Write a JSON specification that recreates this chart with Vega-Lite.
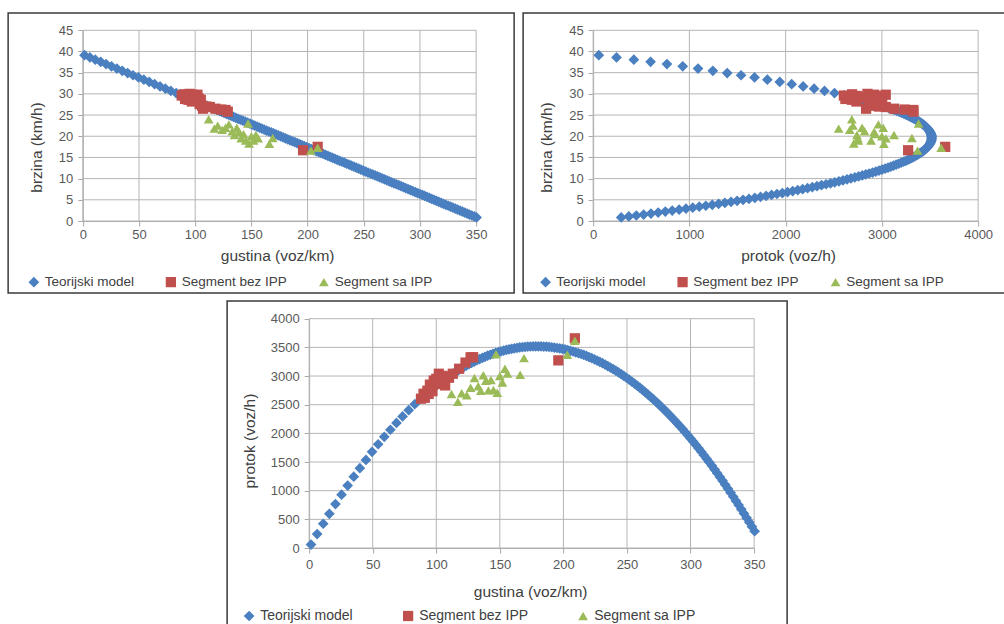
{
"$schema": "https://vega.github.io/schema/vega-lite/v6.json",
"padding": {"left": 7, "top": 12, "right": 0, "bottom": 0},
"config": {
  "font": "Liberation Sans",
  "view": {"stroke": "#3a3a3a", "strokeWidth": 1.5},
  "axis": {"grid": false, "format": "d", "domainColor": "#a8a8a8", "tickColor": "#a8a8a8", "tickSize": 5, "labelColor": "#595959", "labelFontSize": 13, "labelPadding": 5, "titleColor": "#404040", "titleFontSize": 15.5, "titleFontWeight": "normal", "titleBaseline": "middle", "titleAlign": "center", "labelFlush": false, "labelOverlap": false},
  "legend": {"orient": "none", "direction": "horizontal", "columns": 3, "title": null, "padding": 0, "labelOffset": 4, "labelColor": "#404040", "labelFontSize": 13.5, "symbolSize": 110, "symbolStrokeWidth": 0}
},
"datasets": {
  "gk": [{"g":0},{"g":50},{"g":100},{"g":150},{"g":200},{"g":250},{"g":300},{"g":350}],
  "gv": [{"g":0},{"g":5},{"g":10},{"g":15},{"g":20},{"g":25},{"g":30},{"g":35},{"g":40},{"g":45}],
  "gq": [{"g":0},{"g":1000},{"g":2000},{"g":3000},{"g":4000}],
  "gq5": [{"g":0},{"g":500},{"g":1000},{"g":1500},{"g":2000},{"g":2500},{"g":3000},{"g":3500},{"g":4000}],
  "pts": [
{"k":1.5,"v":39.14,"q":59,"s":"Teorijski model"},
{"k":6.3,"v":38.61,"q":243,"s":"Teorijski model"},
{"k":11.1,"v":38.08,"q":423,"s":"Teorijski model"},
{"k":15.9,"v":37.55,"q":597,"s":"Teorijski model"},
{"k":20.7,"v":37.03,"q":767,"s":"Teorijski model"},
{"k":25.5,"v":36.5,"q":931,"s":"Teorijski model"},
{"k":30.3,"v":35.97,"q":1090,"s":"Teorijski model"},
{"k":35.1,"v":35.45,"q":1244,"s":"Teorijski model"},
{"k":39.9,"v":34.92,"q":1393,"s":"Teorijski model"},
{"k":44.7,"v":34.39,"q":1537,"s":"Teorijski model"},
{"k":49.5,"v":33.87,"q":1677,"s":"Teorijski model"},
{"k":54.3,"v":33.34,"q":1810,"s":"Teorijski model"},
{"k":59.1,"v":32.81,"q":1939,"s":"Teorijski model"},
{"k":63.9,"v":32.29,"q":2063,"s":"Teorijski model"},
{"k":68.7,"v":31.76,"q":2182,"s":"Teorijski model"},
{"k":73.5,"v":31.23,"q":2296,"s":"Teorijski model"},
{"k":78.3,"v":30.7,"q":2404,"s":"Teorijski model"},
{"k":83.1,"v":30.18,"q":2508,"s":"Teorijski model"},
{"k":87.9,"v":29.65,"q":2606,"s":"Teorijski model"},
{"k":90.0,"v":29.42,"q":2648,"s":"Teorijski model"},
{"k":92.1,"v":29.19,"q":2688,"s":"Teorijski model"},
{"k":94.2,"v":28.96,"q":2728,"s":"Teorijski model"},
{"k":96.3,"v":28.73,"q":2767,"s":"Teorijski model"},
{"k":98.4,"v":28.5,"q":2804,"s":"Teorijski model"},
{"k":100.5,"v":28.27,"q":2841,"s":"Teorijski model"},
{"k":102.6,"v":28.04,"q":2877,"s":"Teorijski model"},
{"k":104.7,"v":27.81,"q":2911,"s":"Teorijski model"},
{"k":106.8,"v":27.58,"q":2945,"s":"Teorijski model"},
{"k":108.9,"v":27.35,"q":2978,"s":"Teorijski model"},
{"k":111.0,"v":27.12,"q":3010,"s":"Teorijski model"},
{"k":113.1,"v":26.88,"q":3041,"s":"Teorijski model"},
{"k":115.2,"v":26.65,"q":3071,"s":"Teorijski model"},
{"k":117.3,"v":26.42,"q":3099,"s":"Teorijski model"},
{"k":119.4,"v":26.19,"q":3127,"s":"Teorijski model"},
{"k":121.5,"v":25.96,"q":3154,"s":"Teorijski model"},
{"k":123.6,"v":25.73,"q":3180,"s":"Teorijski model"},
{"k":125.7,"v":25.5,"q":3206,"s":"Teorijski model"},
{"k":127.8,"v":25.27,"q":3230,"s":"Teorijski model"},
{"k":129.9,"v":25.04,"q":3253,"s":"Teorijski model"},
{"k":132.0,"v":24.81,"q":3275,"s":"Teorijski model"},
{"k":134.1,"v":24.58,"q":3296,"s":"Teorijski model"},
{"k":136.2,"v":24.35,"q":3316,"s":"Teorijski model"},
{"k":138.3,"v":24.12,"q":3336,"s":"Teorijski model"},
{"k":140.4,"v":23.89,"q":3354,"s":"Teorijski model"},
{"k":142.5,"v":23.66,"q":3371,"s":"Teorijski model"},
{"k":144.6,"v":23.43,"q":3387,"s":"Teorijski model"},
{"k":146.7,"v":23.2,"q":3403,"s":"Teorijski model"},
{"k":148.8,"v":22.97,"q":3417,"s":"Teorijski model"},
{"k":150.9,"v":22.74,"q":3431,"s":"Teorijski model"},
{"k":153.0,"v":22.5,"q":3443,"s":"Teorijski model"},
{"k":155.1,"v":22.27,"q":3455,"s":"Teorijski model"},
{"k":157.2,"v":22.04,"q":3465,"s":"Teorijski model"},
{"k":159.3,"v":21.81,"q":3475,"s":"Teorijski model"},
{"k":161.4,"v":21.58,"q":3483,"s":"Teorijski model"},
{"k":163.5,"v":21.35,"q":3491,"s":"Teorijski model"},
{"k":165.6,"v":21.12,"q":3498,"s":"Teorijski model"},
{"k":167.7,"v":20.89,"q":3503,"s":"Teorijski model"},
{"k":169.8,"v":20.66,"q":3508,"s":"Teorijski model"},
{"k":171.9,"v":20.43,"q":3512,"s":"Teorijski model"},
{"k":174.0,"v":20.2,"q":3515,"s":"Teorijski model"},
{"k":176.1,"v":19.97,"q":3517,"s":"Teorijski model"},
{"k":178.2,"v":19.74,"q":3517,"s":"Teorijski model"},
{"k":180.3,"v":19.51,"q":3517,"s":"Teorijski model"},
{"k":182.4,"v":19.28,"q":3516,"s":"Teorijski model"},
{"k":184.5,"v":19.05,"q":3514,"s":"Teorijski model"},
{"k":186.6,"v":18.82,"q":3511,"s":"Teorijski model"},
{"k":188.7,"v":18.59,"q":3507,"s":"Teorijski model"},
{"k":190.8,"v":18.36,"q":3502,"s":"Teorijski model"},
{"k":192.9,"v":18.13,"q":3496,"s":"Teorijski model"},
{"k":195.0,"v":17.89,"q":3489,"s":"Teorijski model"},
{"k":197.1,"v":17.66,"q":3482,"s":"Teorijski model"},
{"k":199.2,"v":17.43,"q":3473,"s":"Teorijski model"},
{"k":201.3,"v":17.2,"q":3463,"s":"Teorijski model"},
{"k":203.4,"v":16.97,"q":3452,"s":"Teorijski model"},
{"k":205.5,"v":16.74,"q":3440,"s":"Teorijski model"},
{"k":207.6,"v":16.51,"q":3428,"s":"Teorijski model"},
{"k":209.7,"v":16.28,"q":3414,"s":"Teorijski model"},
{"k":211.8,"v":16.05,"q":3399,"s":"Teorijski model"},
{"k":213.9,"v":15.82,"q":3384,"s":"Teorijski model"},
{"k":216.0,"v":15.59,"q":3367,"s":"Teorijski model"},
{"k":218.1,"v":15.36,"q":3350,"s":"Teorijski model"},
{"k":220.2,"v":15.13,"q":3331,"s":"Teorijski model"},
{"k":222.3,"v":14.9,"q":3312,"s":"Teorijski model"},
{"k":224.4,"v":14.67,"q":3291,"s":"Teorijski model"},
{"k":226.5,"v":14.44,"q":3270,"s":"Teorijski model"},
{"k":228.6,"v":14.21,"q":3247,"s":"Teorijski model"},
{"k":230.7,"v":13.98,"q":3224,"s":"Teorijski model"},
{"k":232.8,"v":13.75,"q":3200,"s":"Teorijski model"},
{"k":234.9,"v":13.51,"q":3174,"s":"Teorijski model"},
{"k":237.0,"v":13.28,"q":3148,"s":"Teorijski model"},
{"k":239.1,"v":13.05,"q":3121,"s":"Teorijski model"},
{"k":241.2,"v":12.82,"q":3093,"s":"Teorijski model"},
{"k":243.3,"v":12.59,"q":3064,"s":"Teorijski model"},
{"k":245.4,"v":12.36,"q":3034,"s":"Teorijski model"},
{"k":247.5,"v":12.13,"q":3002,"s":"Teorijski model"},
{"k":249.6,"v":11.9,"q":2970,"s":"Teorijski model"},
{"k":251.7,"v":11.67,"q":2937,"s":"Teorijski model"},
{"k":253.8,"v":11.44,"q":2903,"s":"Teorijski model"},
{"k":255.9,"v":11.21,"q":2868,"s":"Teorijski model"},
{"k":258.0,"v":10.98,"q":2832,"s":"Teorijski model"},
{"k":260.1,"v":10.75,"q":2796,"s":"Teorijski model"},
{"k":262.2,"v":10.52,"q":2758,"s":"Teorijski model"},
{"k":264.3,"v":10.29,"q":2719,"s":"Teorijski model"},
{"k":266.4,"v":10.06,"q":2679,"s":"Teorijski model"},
{"k":268.5,"v":9.83,"q":2638,"s":"Teorijski model"},
{"k":270.6,"v":9.6,"q":2596,"s":"Teorijski model"},
{"k":272.7,"v":9.37,"q":2554,"s":"Teorijski model"},
{"k":274.8,"v":9.13,"q":2510,"s":"Teorijski model"},
{"k":276.9,"v":8.9,"q":2466,"s":"Teorijski model"},
{"k":279.0,"v":8.67,"q":2420,"s":"Teorijski model"},
{"k":281.1,"v":8.44,"q":2373,"s":"Teorijski model"},
{"k":283.2,"v":8.21,"q":2326,"s":"Teorijski model"},
{"k":285.3,"v":7.98,"q":2277,"s":"Teorijski model"},
{"k":287.4,"v":7.75,"q":2228,"s":"Teorijski model"},
{"k":289.5,"v":7.52,"q":2177,"s":"Teorijski model"},
{"k":291.6,"v":7.29,"q":2126,"s":"Teorijski model"},
{"k":293.7,"v":7.06,"q":2074,"s":"Teorijski model"},
{"k":295.8,"v":6.83,"q":2020,"s":"Teorijski model"},
{"k":297.9,"v":6.6,"q":1966,"s":"Teorijski model"},
{"k":300.0,"v":6.37,"q":1910,"s":"Teorijski model"},
{"k":302.1,"v":6.14,"q":1854,"s":"Teorijski model"},
{"k":304.2,"v":5.91,"q":1797,"s":"Teorijski model"},
{"k":306.3,"v":5.68,"q":1739,"s":"Teorijski model"},
{"k":308.4,"v":5.45,"q":1680,"s":"Teorijski model"},
{"k":310.5,"v":5.22,"q":1619,"s":"Teorijski model"},
{"k":312.6,"v":4.99,"q":1558,"s":"Teorijski model"},
{"k":314.7,"v":4.75,"q":1496,"s":"Teorijski model"},
{"k":316.8,"v":4.52,"q":1433,"s":"Teorijski model"},
{"k":318.9,"v":4.29,"q":1369,"s":"Teorijski model"},
{"k":321.0,"v":4.06,"q":1304,"s":"Teorijski model"},
{"k":323.1,"v":3.83,"q":1238,"s":"Teorijski model"},
{"k":325.2,"v":3.6,"q":1171,"s":"Teorijski model"},
{"k":327.3,"v":3.37,"q":1103,"s":"Teorijski model"},
{"k":329.4,"v":3.14,"q":1035,"s":"Teorijski model"},
{"k":331.5,"v":2.91,"q":965,"s":"Teorijski model"},
{"k":333.6,"v":2.68,"q":894,"s":"Teorijski model"},
{"k":335.7,"v":2.45,"q":822,"s":"Teorijski model"},
{"k":337.8,"v":2.22,"q":750,"s":"Teorijski model"},
{"k":339.9,"v":1.99,"q":676,"s":"Teorijski model"},
{"k":342.0,"v":1.76,"q":601,"s":"Teorijski model"},
{"k":344.1,"v":1.53,"q":525,"s":"Teorijski model"},
{"k":346.2,"v":1.3,"q":449,"s":"Teorijski model"},
{"k":348.3,"v":1.07,"q":371,"s":"Teorijski model"},
{"k":350.4,"v":0.83,"q":292,"s":"Teorijski model"},
{"k":88,"v":29.6,"q":2605,"s":"Segment bez IPP"},
{"k":90,"v":29.9,"q":2691,"s":"Segment bez IPP"},
{"k":91,"v":28.8,"q":2621,"s":"Segment bez IPP"},
{"k":93,"v":29.5,"q":2744,"s":"Segment bez IPP"},
{"k":94,"v":28.6,"q":2688,"s":"Segment bez IPP"},
{"k":95,"v":30.0,"q":2850,"s":"Segment bez IPP"},
{"k":96,"v":29.1,"q":2794,"s":"Segment bez IPP"},
{"k":97,"v":28.2,"q":2735,"s":"Segment bez IPP"},
{"k":98,"v":29.8,"q":2920,"s":"Segment bez IPP"},
{"k":99,"v":28.9,"q":2861,"s":"Segment bez IPP"},
{"k":100,"v":29.5,"q":2950,"s":"Segment bez IPP"},
{"k":101,"v":28.4,"q":2868,"s":"Segment bez IPP"},
{"k":102,"v":29.8,"q":3040,"s":"Segment bez IPP"},
{"k":103,"v":28.9,"q":2977,"s":"Segment bez IPP"},
{"k":104,"v":27.6,"q":2870,"s":"Segment bez IPP"},
{"k":105,"v":28.6,"q":3003,"s":"Segment bez IPP"},
{"k":106,"v":27.2,"q":2883,"s":"Segment bez IPP"},
{"k":107,"v":26.5,"q":2836,"s":"Segment bez IPP"},
{"k":110,"v":27.0,"q":2970,"s":"Segment bez IPP"},
{"k":113,"v":26.9,"q":3040,"s":"Segment bez IPP"},
{"k":118,"v":26.5,"q":3127,"s":"Segment bez IPP"},
{"k":123,"v":26.3,"q":3235,"s":"Segment bez IPP"},
{"k":127,"v":26.2,"q":3327,"s":"Segment bez IPP"},
{"k":129,"v":25.8,"q":3328,"s":"Segment bez IPP"},
{"k":196,"v":16.7,"q":3273,"s":"Segment bez IPP"},
{"k":209,"v":17.5,"q":3658,"s":"Segment bez IPP"},
{"k":112,"v":24.0,"q":2688,"s":"Segment sa IPP"},
{"k":117,"v":21.8,"q":2551,"s":"Segment sa IPP"},
{"k":120,"v":22.5,"q":2700,"s":"Segment sa IPP"},
{"k":124,"v":21.5,"q":2666,"s":"Segment sa IPP"},
{"k":127,"v":22.0,"q":2794,"s":"Segment sa IPP"},
{"k":130,"v":22.8,"q":2964,"s":"Segment sa IPP"},
{"k":133,"v":21.2,"q":2820,"s":"Segment sa IPP"},
{"k":135,"v":20.3,"q":2741,"s":"Segment sa IPP"},
{"k":137,"v":22.0,"q":3014,"s":"Segment sa IPP"},
{"k":139,"v":21.0,"q":2919,"s":"Segment sa IPP"},
{"k":141,"v":19.5,"q":2750,"s":"Segment sa IPP"},
{"k":143,"v":20.5,"q":2932,"s":"Segment sa IPP"},
{"k":145,"v":19.0,"q":2755,"s":"Segment sa IPP"},
{"k":147,"v":23.0,"q":3381,"s":"Segment sa IPP"},
{"k":148,"v":18.3,"q":2708,"s":"Segment sa IPP"},
{"k":150,"v":20.0,"q":3000,"s":"Segment sa IPP"},
{"k":152,"v":19.0,"q":2888,"s":"Segment sa IPP"},
{"k":154,"v":20.3,"q":3126,"s":"Segment sa IPP"},
{"k":156,"v":19.5,"q":3042,"s":"Segment sa IPP"},
{"k":166,"v":18.2,"q":3021,"s":"Segment sa IPP"},
{"k":169,"v":19.6,"q":3312,"s":"Segment sa IPP"},
{"k":203,"v":16.6,"q":3370,"s":"Segment sa IPP"},
{"k":209,"v":17.3,"q":3616,"s":"Segment sa IPP"}
  ]
},
"spacing": 6,
"center": true,
"resolve": {"scale": {"color": "independent", "shape": "independent", "size": "independent"}, "legend": {"color": "independent", "shape": "independent", "size": "independent"}},
"vconcat": [
 {
  "spacing": 7,
  "resolve": {"scale": {"color": "independent", "shape": "independent", "size": "independent"}, "legend": {"color": "independent", "shape": "independent", "size": "independent"}},
  "hconcat": [
   {
    "width": 506, "height": 280,
    "layer": [
     {"data": {"name": "gk"}, "mark": {"type": "rule", "color": "#b4b4b4", "strokeWidth": 1},
      "encoding": {
        "x": {"field": "g", "type": "quantitative", "title": "gustina (voz/km)", "scale": {"domain": [0, 350], "range": [74.7, 468], "nice": false, "zero": false},
              "axis": {"values": [0, 50, 100, 150, 200, 250, 300, 350], "offset": -72, "labelPadding": 2, "title": "gustina (voz/km)", "titleX": 269, "titleY": 34}},
        "y": {"datum": 0, "type": "quantitative", "title": "brzina (km/h)", "scale": {"domain": [0, 45], "range": [208, 17.3], "nice": false, "zero": false},
              "axis": {"values": [0, 5, 10, 15, 20, 25, 30, 35, 40, 45], "offset": -74.7, "title": "brzina (km/h)", "titleX": -46.7, "titleY": 134}},
        "y2": {"datum": 45}}},
     {"data": {"name": "gv"}, "mark": {"type": "rule", "color": "#b4b4b4", "strokeWidth": 1},
      "encoding": {
        "y": {"field": "g", "type": "quantitative", "title": "brzina (km/h)", "scale": {"domain": [0, 45], "range": [208, 17.3], "nice": false, "zero": false},
              "axis": {"values": [0, 5, 10, 15, 20, 25, 30, 35, 40, 45], "offset": -74.7, "title": "brzina (km/h)", "titleX": -46.7, "titleY": 134}},
        "x": {"datum": 0, "type": "quantitative", "title": "gustina (voz/km)", "scale": {"domain": [0, 350], "range": [74.7, 468], "nice": false, "zero": false},
              "axis": {"values": [0, 50, 100, 150, 200, 250, 300, 350], "offset": -72, "labelPadding": 2, "title": "gustina (voz/km)", "titleX": 269, "titleY": 34}},
        "x2": {"datum": 350}}},
     {"data": {"name": "pts"}, "mark": {"type": "point", "filled": true, "opacity": 1, "strokeWidth": 0},
      "encoding": {
        "x": {"field": "k", "type": "quantitative", "title": "gustina (voz/km)", "scale": {"domain": [0, 350], "range": [74.7, 468], "nice": false, "zero": false},
              "axis": {"values": [0, 50, 100, 150, 200, 250, 300, 350], "offset": -72, "labelPadding": 2, "title": "gustina (voz/km)", "titleX": 269, "titleY": 34}},
        "y": {"field": "v", "type": "quantitative", "title": "brzina (km/h)", "scale": {"domain": [0, 45], "range": [208, 17.3], "nice": false, "zero": false},
              "axis": {"values": [0, 5, 10, 15, 20, 25, 30, 35, 40, 45], "offset": -74.7, "title": "brzina (km/h)", "titleX": -46.7, "titleY": 134}},
        "color": {"field": "s", "type": "nominal", "scale": {"domain": ["Teorijski model", "Segment bez IPP", "Segment sa IPP"], "range": ["#4a7fc0", "#c0504d", "#9bbb59"]},
                  "legend": {"legendX": 19, "legendY": 262, "columnPadding": 30}},
        "shape": {"field": "s", "type": "nominal", "scale": {"domain": ["Teorijski model", "Segment bez IPP", "Segment sa IPP"], "range": ["diamond", "square", "triangle-up"]},
                  "legend": {"legendX": 19, "legendY": 262, "columnPadding": 30}},
        "size": {"field": "s", "type": "nominal", "scale": {"domain": ["Teorijski model", "Segment bez IPP", "Segment sa IPP"], "range": [115, 95, 130]}, "legend": null}
      }}
    ]
   },
   {
    "width": 483, "height": 280,
    "layer": [
     {"data": {"name": "gq"}, "mark": {"type": "rule", "color": "#b4b4b4", "strokeWidth": 1},
      "encoding": {
        "x": {"field": "g", "type": "quantitative", "title": "protok (voz/h)", "scale": {"domain": [0, 4000], "range": [70, 455], "nice": false, "zero": false},
              "axis": {"values": [0, 1000, 2000, 3000, 4000], "offset": -72, "labelPadding": 2, "title": "protok (voz/h)", "titleX": 265, "titleY": 34}},
        "y": {"datum": 0, "type": "quantitative", "title": "brzina (km/h)", "scale": {"domain": [0, 45], "range": [208, 17.3], "nice": false, "zero": false},
              "axis": {"values": [0, 5, 10, 15, 20, 25, 30, 35, 40, 45], "offset": -70, "title": "brzina (km/h)", "titleX": -46.7, "titleY": 134}},
        "y2": {"datum": 45}}},
     {"data": {"name": "gv"}, "mark": {"type": "rule", "color": "#b4b4b4", "strokeWidth": 1},
      "encoding": {
        "y": {"field": "g", "type": "quantitative", "title": "brzina (km/h)", "scale": {"domain": [0, 45], "range": [208, 17.3], "nice": false, "zero": false},
              "axis": {"values": [0, 5, 10, 15, 20, 25, 30, 35, 40, 45], "offset": -70, "title": "brzina (km/h)", "titleX": -46.7, "titleY": 134}},
        "x": {"datum": 0, "type": "quantitative", "title": "protok (voz/h)", "scale": {"domain": [0, 4000], "range": [70, 455], "nice": false, "zero": false},
              "axis": {"values": [0, 1000, 2000, 3000, 4000], "offset": -72, "labelPadding": 2, "title": "protok (voz/h)", "titleX": 265, "titleY": 34}},
        "x2": {"datum": 4000}}},
     {"data": {"name": "pts"}, "mark": {"type": "point", "filled": true, "opacity": 1, "strokeWidth": 0},
      "encoding": {
        "x": {"field": "q", "type": "quantitative", "title": "protok (voz/h)", "scale": {"domain": [0, 4000], "range": [70, 455], "nice": false, "zero": false},
              "axis": {"values": [0, 1000, 2000, 3000, 4000], "offset": -72, "labelPadding": 2, "title": "protok (voz/h)", "titleX": 265, "titleY": 34}},
        "y": {"field": "v", "type": "quantitative", "title": "brzina (km/h)", "scale": {"domain": [0, 45], "range": [208, 17.3], "nice": false, "zero": false},
              "axis": {"values": [0, 5, 10, 15, 20, 25, 30, 35, 40, 45], "offset": -70, "title": "brzina (km/h)", "titleX": -46.7, "titleY": 134}},
        "color": {"field": "s", "type": "nominal", "scale": {"domain": ["Teorijski model", "Segment bez IPP", "Segment sa IPP"], "range": ["#4a7fc0", "#c0504d", "#9bbb59"]},
                  "legend": {"legendX": 15.7, "legendY": 262, "columnPadding": 30}},
        "shape": {"field": "s", "type": "nominal", "scale": {"domain": ["Teorijski model", "Segment bez IPP", "Segment sa IPP"], "range": ["diamond", "square", "triangle-up"]},
                  "legend": {"legendX": 15.7, "legendY": 262, "columnPadding": 30}},
        "size": {"field": "s", "type": "nominal", "scale": {"domain": ["Teorijski model", "Segment bez IPP", "Segment sa IPP"], "range": [115, 95, 130]}, "legend": null}
      }}
    ]
   }
  ]
 },
 {
  "width": 560, "height": 330,
  "layer": [
   {"data": {"name": "gk"}, "mark": {"type": "rule", "color": "#b4b4b4", "strokeWidth": 1},
    "encoding": {
      "x": {"field": "g", "type": "quantitative", "title": "gustina (voz/km)", "scale": {"domain": [0, 350], "range": [82, 527], "nice": false, "zero": false},
            "axis": {"values": [0, 50, 100, 150, 200, 250, 300, 350], "offset": -83, "title": "gustina (voz/km)", "titleX": 303, "titleY": 43}},
      "y": {"datum": 0, "type": "quantitative", "title": "protok (voz/h)", "scale": {"domain": [0, 4000], "range": [247, 17.7], "nice": false, "zero": false},
            "axis": {"values": [0, 500, 1000, 1500, 2000, 2500, 3000, 3500, 4000], "offset": -82, "title": "protok (voz/h)", "titleX": -60, "titleY": 139.5}},
      "y2": {"datum": 4000}}},
   {"data": {"name": "gq5"}, "mark": {"type": "rule", "color": "#b4b4b4", "strokeWidth": 1},
    "encoding": {
      "y": {"field": "g", "type": "quantitative", "title": "protok (voz/h)", "scale": {"domain": [0, 4000], "range": [247, 17.7], "nice": false, "zero": false},
            "axis": {"values": [0, 500, 1000, 1500, 2000, 2500, 3000, 3500, 4000], "offset": -82, "title": "protok (voz/h)", "titleX": -60, "titleY": 139.5}},
      "x": {"datum": 0, "type": "quantitative", "title": "gustina (voz/km)", "scale": {"domain": [0, 350], "range": [82, 527], "nice": false, "zero": false},
            "axis": {"values": [0, 50, 100, 150, 200, 250, 300, 350], "offset": -83, "title": "gustina (voz/km)", "titleX": 303, "titleY": 43}},
      "x2": {"datum": 350}}},
   {"data": {"name": "pts"}, "mark": {"type": "point", "filled": true, "opacity": 1, "strokeWidth": 0},
    "encoding": {
      "x": {"field": "k", "type": "quantitative", "title": "gustina (voz/km)", "scale": {"domain": [0, 350], "range": [82, 527], "nice": false, "zero": false},
            "axis": {"values": [0, 50, 100, 150, 200, 250, 300, 350], "offset": -83, "title": "gustina (voz/km)", "titleX": 303, "titleY": 43}},
      "y": {"field": "q", "type": "quantitative", "title": "protok (voz/h)", "scale": {"domain": [0, 4000], "range": [247, 17.7], "nice": false, "zero": false},
            "axis": {"values": [0, 500, 1000, 1500, 2000, 2500, 3000, 3500, 4000], "offset": -82, "title": "protok (voz/h)", "titleX": -60, "titleY": 139.5}},
      "color": {"field": "s", "type": "nominal", "scale": {"domain": ["Teorijski model", "Segment bez IPP", "Segment sa IPP"], "range": ["#4a7fc0", "#c0504d", "#9bbb59"]},
                "legend": {"legendX": 15, "legendY": 308, "columnPadding": 48, "labelFontSize": 14}},
      "shape": {"field": "s", "type": "nominal", "scale": {"domain": ["Teorijski model", "Segment bez IPP", "Segment sa IPP"], "range": ["diamond", "square", "triangle-up"]},
                "legend": {"legendX": 15, "legendY": 308, "columnPadding": 48, "labelFontSize": 14}},
      "size": {"field": "s", "type": "nominal", "scale": {"domain": ["Teorijski model", "Segment bez IPP", "Segment sa IPP"], "range": [115, 95, 130]}, "legend": null}
    }}
  ]
 }
]
}
